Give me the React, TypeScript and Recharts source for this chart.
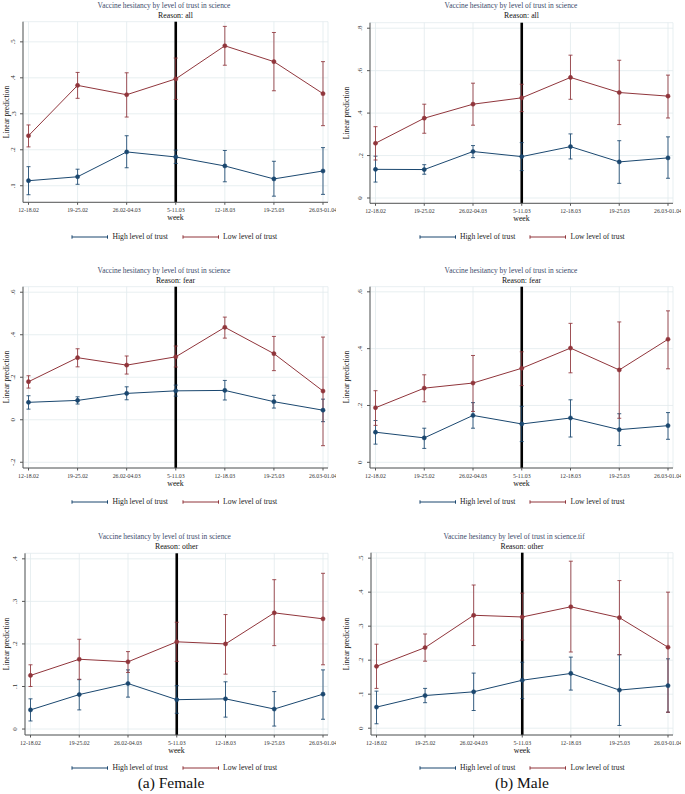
import React from 'react';
import { LineChart, Line, XAxis, YAxis, CartesianGrid, ErrorBar, ReferenceLine } from 'recharts';

const weeks = ['12-18.02', '19-25.02', '26.02-04.03', '5-11.03', '12-18.03', '19-25.03', '26.03-01.04'];
const breakWeek = '5-11.03';

// each point: [estimate, lower CI, upper CI]
const femaleAllHigh = [[0.114, 0.075, 0.153], [0.125, 0.104, 0.146], [0.194, 0.15, 0.239], [0.18, 0.162, 0.199], [0.155, 0.111, 0.198], [0.119, 0.071, 0.168], [0.141, 0.076, 0.206]];
const femaleAllLow = [[0.239, 0.208, 0.269], [0.379, 0.343, 0.415], [0.353, 0.291, 0.414], [0.397, 0.34, 0.455], [0.489, 0.435, 0.543], [0.445, 0.364, 0.526], [0.356, 0.267, 0.445]];
const maleAllHigh = [[0.135, 0.075, 0.197], [0.134, 0.112, 0.157], [0.219, 0.19, 0.247], [0.195, 0.129, 0.261], [0.242, 0.184, 0.302], [0.17, 0.069, 0.27], [0.189, 0.093, 0.288]];
const maleAllLow = [[0.258, 0.179, 0.336], [0.376, 0.305, 0.442], [0.442, 0.343, 0.541], [0.472, 0.407, 0.536], [0.568, 0.465, 0.673], [0.497, 0.346, 0.649], [0.48, 0.377, 0.579]];
const femaleFearHigh = [[0.082, 0.05, 0.113], [0.091, 0.074, 0.108], [0.124, 0.094, 0.155], [0.136, 0.111, 0.163], [0.138, 0.093, 0.185], [0.085, 0.055, 0.115], [0.045, -0.009, 0.097]];
const femaleFearLow = [[0.179, 0.149, 0.207], [0.292, 0.249, 0.334], [0.257, 0.215, 0.3], [0.296, 0.248, 0.347], [0.435, 0.384, 0.483], [0.311, 0.231, 0.392], [0.135, -0.122, 0.389]];
const maleFearHigh = [[0.106, 0.064, 0.147], [0.086, 0.049, 0.12], [0.165, 0.12, 0.21], [0.135, 0.073, 0.197], [0.156, 0.089, 0.22], [0.115, 0.059, 0.171], [0.129, 0.081, 0.175]];
const maleFearLow = [[0.192, 0.13, 0.252], [0.261, 0.213, 0.308], [0.279, 0.179, 0.376], [0.331, 0.27, 0.389], [0.402, 0.315, 0.489], [0.325, 0.155, 0.494], [0.433, 0.329, 0.533]];
const femaleOtherHigh = [[0.045, 0.019, 0.071], [0.081, 0.045, 0.116], [0.107, 0.075, 0.139], [0.069, 0.037, 0.102], [0.071, 0.028, 0.111], [0.047, 0.007, 0.088], [0.082, 0.023, 0.139]];
const femaleOtherLow = [[0.126, 0.1, 0.151], [0.164, 0.117, 0.211], [0.158, 0.133, 0.182], [0.205, 0.159, 0.251], [0.2, 0.129, 0.269], [0.273, 0.196, 0.351], [0.259, 0.151, 0.366]];
const maleOtherHigh = [[0.062, 0.013, 0.109], [0.096, 0.075, 0.117], [0.107, 0.052, 0.162], [0.141, 0.087, 0.194], [0.161, 0.112, 0.209], [0.112, 0.008, 0.216], [0.125, 0.047, 0.204]];
const maleOtherLow = [[0.182, 0.117, 0.247], [0.237, 0.197, 0.277], [0.332, 0.243, 0.421], [0.327, 0.259, 0.397], [0.357, 0.224, 0.491], [0.325, 0.216, 0.434], [0.238, 0.047, 0.4]];

const femaleAllTicks = [0.1, 0.2, 0.3, 0.4, 0.5];
const maleAllTicks = [0, 0.2, 0.4, 0.6, 0.8];
const femaleFearTicks = [-0.2, 0, 0.2, 0.4, 0.6];
const maleFearTicks = [0, 0.2, 0.4, 0.6];
const femaleOtherTicks = [0, 0.1, 0.2, 0.3, 0.4];
const maleOtherTicks = [0, 0.1, 0.2, 0.3, 0.4, 0.5];

const TITLE = 'Vaccine hesitancy by level of trust in science';
const HIGH = 'High level of trust';
const LOW = 'Low level of trust';

const BLUE = '#1a476f';
const RED = '#90353b';
const FONT = '"Liberation Serif", "Times New Roman", serif';

const fmt = (v: number) => (v === 0 ? '0' : (v < 0 ? '-' : '') + Math.abs(v).toFixed(1).replace(/^0/, ''));

const XTick = (props: any) => {
  const { x, y, payload } = props;
  return (
    <text x={x} y={y} dy="0.71em" textAnchor="middle" fontSize={5.8} fontFamily={FONT} fill="#333">
      {payload.value}
    </text>
  );
};

const YTick = (props: any) => {
  const { x, y, payload } = props;
  return (
    <text x={x} y={y} transform={`rotate(-90 ${x} ${y})`} textAnchor="middle" fontSize={7} fontFamily={FONT} fill="#333">
      {fmt(payload.value)}
    </text>
  );
};

const Label = ({ x, y, text, size = 7.6, color = '#111', rotate = false }: any) => (
  <div
    style={{
      position: 'absolute',
      left: x,
      top: y,
      transform: `translate(-50%, -50%)${rotate ? ' rotate(-90deg)' : ''}`,
      fontFamily: FONT,
      fontSize: size,
      color,
      whiteSpace: 'nowrap',
      lineHeight: 1,
    }}
  >
    {text}
  </div>
);

const LegendKey = ({ x1, x2, y, color, label }: any) => (
  <>
    <svg style={{ position: 'absolute', left: x1 - 1, top: y - 3 }} width={x2 - x1 + 2} height={6}>
      <line x1={1} y1={3} x2={x2 - x1 + 1} y2={3} stroke={color} strokeWidth={1} />
      <line x1={1} y1={1.3} x2={1} y2={4.7} stroke={color} strokeWidth={1} />
      <line x1={x2 - x1 + 1} y1={1.3} x2={x2 - x1 + 1} y2={4.7} stroke={color} strokeWidth={1} />
    </svg>
    <div style={{ position: 'absolute', left: x2 + 5, top: y, transform: 'translateY(-50%)', fontFamily: FONT, fontSize: 7.6, color: '#222', whiteSpace: 'nowrap', lineHeight: 1 }}>
      {label}
    </div>
  </>
);

const panels = [
  { high: femaleAllHigh, low: femaleAllLow, ticks: femaleAllTicks, domain: [0.054, 0.556], reason: 'Reason: all', title: TITLE, ox: 0, oy: 0, l: 23, r: 328, t: 21.7, b: 202.3, titleX: 164, titleY: 6, legendY: 236.5, left: true },
  { high: maleAllHigh, low: maleAllLow, ticks: maleAllTicks, domain: [-0.025, 0.826], reason: 'Reason: all', title: TITLE, ox: 340, oy: 0, l: 370, r: 673, t: 22.7, b: 203.3, titleX: 511, titleY: 6, legendY: 237, left: false },
  { high: femaleFearHigh, low: femaleFearLow, ticks: femaleFearTicks, domain: [-0.227, 0.626], reason: 'Reason: fear', title: TITLE, ox: 0, oy: 260, l: 23, r: 328, t: 286.7, b: 468, titleX: 164, titleY: 270.7, legendY: 501.7, left: true },
  { high: maleFearHigh, low: maleFearLow, ticks: maleFearTicks, domain: [-0.02, 0.618], reason: 'Reason: fear', title: TITLE, ox: 340, oy: 260, l: 370, r: 673, t: 286.7, b: 468, titleX: 511, titleY: 270.7, legendY: 501.7, left: false },
  { high: femaleOtherHigh, low: femaleOtherLow, ticks: femaleOtherTicks, domain: [-0.014, 0.413], reason: 'Reason: other', title: TITLE, ox: 0, oy: 520, l: 25, r: 328, t: 553.3, b: 735, titleX: 164.5, titleY: 536.7, legendY: 768, left: true },
  { high: maleOtherHigh, low: maleOtherLow, ticks: maleOtherTicks, domain: [-0.02, 0.516], reason: 'Reason: other', title: TITLE + '.tif', ox: 340, oy: 520, l: 371, r: 673, t: 552.7, b: 735, titleX: 514, titleY: 536.7, legendY: 768, left: false },
];

const Panel = ({ p }: any) => {
  const data = weeks.map((w, i) => ({
    week: w,
    high: p.high[i][0],
    highErr: [p.high[i][0] - p.high[i][1], p.high[i][2] - p.high[i][0]],
    low: p.low[i][0],
    lowErr: [p.low[i][0] - p.low[i][1], p.low[i][2] - p.low[i][0]],
  }));
  const cw = p.r - p.ox + 8;
  const ch = p.b - p.oy + 20;
  const cx = (p.l + p.r) / 2;
  const lx = p.left ? 72 : 419.5;
  return (
    <>
      <div style={{ position: 'absolute', left: p.ox, top: p.oy }}>
        <LineChart width={cw} height={ch} data={data} margin={{ top: p.t - p.oy, right: 8, left: 0, bottom: 0 }}>
          <CartesianGrid stroke="#e2ebee" strokeWidth={0.8} />
          <XAxis dataKey="week" height={20} interval={0} padding={{ left: 5.5, right: 5 }} tick={<XTick />} tickSize={2.5} tickMargin={3} stroke="#555" />
          <YAxis type="number" width={p.l - p.ox} domain={p.domain} ticks={p.ticks} allowDataOverflow tick={<YTick />} tickSize={3} tickMargin={4.5} stroke="#555" />
          <ReferenceLine x={breakWeek} stroke="#000" strokeWidth={2.6} />
          <Line dataKey="high" stroke={BLUE} strokeWidth={1} isAnimationActive={false} dot={{ r: 2.1, fill: BLUE, stroke: BLUE, strokeWidth: 0.5 }}>
            <ErrorBar dataKey="highErr" width={2} stroke={BLUE} strokeWidth={1} strokeOpacity={0.85} direction="y" isAnimationActive={false} />
          </Line>
          <Line dataKey="low" stroke={RED} strokeWidth={1} isAnimationActive={false} dot={{ r: 2.1, fill: RED, stroke: RED, strokeWidth: 0.5 }}>
            <ErrorBar dataKey="lowErr" width={2} stroke={RED} strokeWidth={1} strokeOpacity={0.85} direction="y" isAnimationActive={false} />
          </Line>
        </LineChart>
      </div>
      <Label x={p.titleX} y={p.titleY} text={p.title} size={7.4} color="#3b4a6b" />
      <Label x={cx} y={p.titleY + 10} text={p.reason} size={7.8} />
      <Label x={cx} y={p.b + 15.5} text="week" size={7.8} />
      <Label x={p.ox + 6.5} y={(p.t + p.b) / 2} text="Linear prediction" size={7.6} rotate />
      <LegendKey x1={lx} x2={lx + 35.5} y={p.legendY} color={BLUE} label={HIGH} />
      <LegendKey x1={lx + 110.5} x2={lx + 146} y={p.legendY} color={RED} label={LOW} />
    </>
  );
};

export default function App() {
  return (
    <div style={{ position: 'absolute', left: 0, top: 0, width: 685, height: 794, background: '#fff', overflow: 'hidden' }}>
      {panels.map((p, i) => (
        <Panel key={i} p={p} />
      ))}
      <Label x={171} y={783} text="(a) Female" size={15.5} color="#111" />
      <Label x={522} y={783} text="(b) Male" size={15.5} color="#111" />
    </div>
  );
}
